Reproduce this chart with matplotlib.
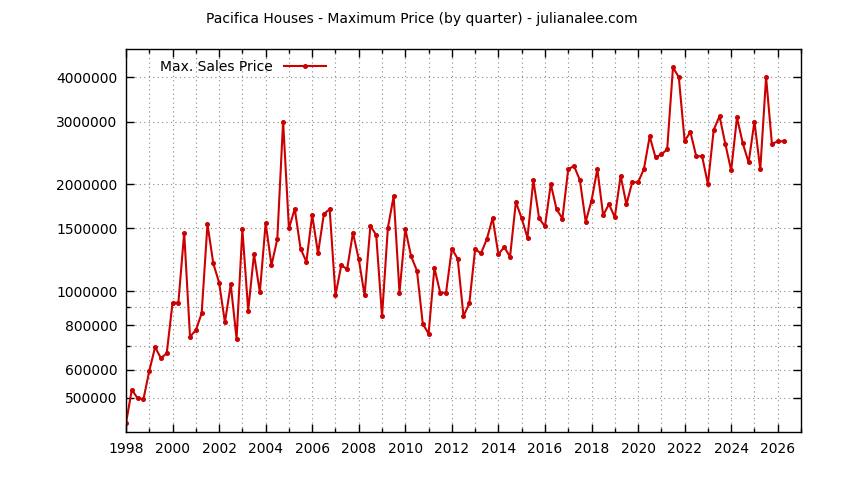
import numpy as np
import matplotlib
matplotlib.use("Agg")
import matplotlib.pyplot as plt
from matplotlib.ticker import FixedLocator, FixedFormatter, NullFormatter

# quarterly maximum sale prices, 1998 Q1 .. 2026 Q2
start_year = 1998
prices = [
    425000, 527000, 499000, 496000,
    596000, 695000, 647000, 668000,
    927000, 927000, 1459000, 743000,
    776000, 865000, 1543000, 1196000,
    1056000, 816000, 1044000, 734000,
    1491000, 881000, 1271000, 991000,
    1553000, 1181000, 1400000, 3000000,
    1501000, 1704000, 1315000, 1209000,
    1636000, 1277000, 1646000, 1701000,
    972000, 1183000, 1151000, 1459000,
    1230000, 972000, 1526000, 1437000,
    849000, 1504000, 1850000, 989000,
    1494000, 1252000, 1141000, 809000,
    758000, 1161000, 989000, 989000,
    1315000, 1233000, 850000, 923000,
    1312000, 1276000, 1398000, 1604000,
    1268000, 1330000, 1249000, 1780000,
    1601000, 1413000, 2052000, 1601000,
    1520000, 2000000, 1697000, 1600000,
    2204000, 2247000, 2052000, 1567000,
    1795000, 2204000, 1633000, 1757000,
    1612000, 2111000, 1753000, 2026000,
    2021000, 2204000, 2723000, 2377000,
    2424000, 2504000, 4259000, 4000000,
    2647000, 2801000, 2392000, 2398000,
    2000000, 2843000, 3107000, 2591000,
    2185000, 3080000, 2603000, 2301000,
    3000000, 2199000, 4000000, 2596000,
    2637000, 2640000,
]
years = start_year + 0.25 * np.arange(len(prices))

y_ticks = [500000, 600000, 800000, 1000000, 1500000, 2000000, 3000000, 4000000]
y_minor = [700000, 900000]
x_major = np.arange(1998, 2027, 2)
x_minor = np.arange(1999, 2028, 2)

red = "#cc0000"
plt.rcParams["font.family"] = ["DejaVu Sans"]

fig = plt.figure(figsize=(8.44, 4.8), dpi=100)
ax = fig.add_axes([126 / 844, 1 - 432 / 480, 675 / 844, 383 / 480])

ax.plot(years, prices, color=red, linewidth=1.5, marker="o", markersize=2.6,
        label="Max. Sales Price")

ax.set_yscale("log")
ax.set_xlim(1998, 2027)
ax.set_ylim(401000, 4800000)

ax.yaxis.set_major_locator(FixedLocator(y_ticks))
ax.yaxis.set_minor_locator(FixedLocator(y_minor))
ax.yaxis.set_major_formatter(FixedFormatter([str(v) for v in y_ticks]))
ax.yaxis.set_minor_formatter(NullFormatter())
ax.xaxis.set_major_locator(FixedLocator(x_major))
ax.xaxis.set_minor_locator(FixedLocator(x_minor))
ax.set_xticklabels([str(v) for v in x_major])

ax.tick_params(which="both", direction="in", top=True, right=True, labelsize=10,
               colors="black", width=1)
ax.tick_params(which="major", length=6)
ax.tick_params(which="minor", length=3)
ax.tick_params(axis="x", pad=7)
ax.tick_params(axis="y", pad=6)

ax.grid(True, which="both", color="#888888", linestyle=(0, (1, 3)), linewidth=0.8)
ax.set_axisbelow(True)
for s in ax.spines.values():
    s.set_linewidth(1)

leg = ax.legend(loc="upper left", bbox_to_anchor=(0.034, 1.0), frameon=False,
                markerfirst=False, handlelength=3.0, fontsize=10,
                borderaxespad=0.4, handletextpad=0.8)
for line in leg.get_lines():
    line.set_markersize(2.6)

fig.text(0.5, 1 - 19 / 480, "Pacifica Houses - Maximum Price (by quarter) - julianalee.com",
         ha="center", va="center", fontsize=10)

fig.savefig("out.png", dpi=100)
